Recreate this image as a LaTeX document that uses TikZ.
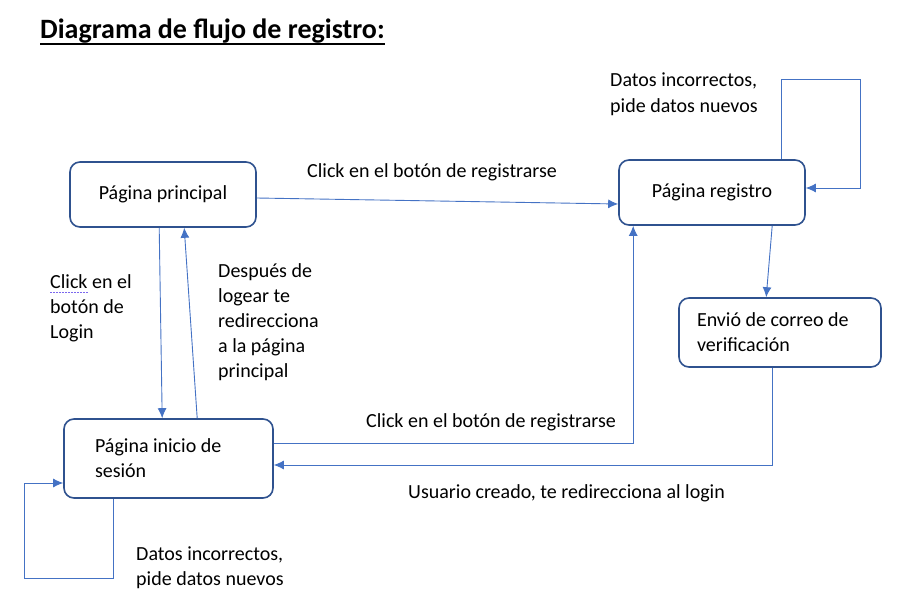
\documentclass[tikz,border=0pt]{standalone}
\usepackage{fontspec}
\setmainfont{Carlito}
\usepackage{tikz}
\usetikzlibrary{arrows.meta,shapes,positioning,calc}
\usepackage{xcolor}
\definecolor{flborder}{RGB}{47,82,143}
\definecolor{flline}{RGB}{68,114,196}
\definecolor{flsquiggle}{RGB}{123,104,238}
\tikzstyle{pagebox} = [rectangle, rounded corners=10pt, draw=flborder, fill=white, line width=1.6pt, inner sep=0pt]
\tikzstyle{arrow} = [line width=0.9pt, -{Latex[length=10pt,width=9pt]}, color=flline]
\tikzstyle{caption} = [anchor=base west, align=left, inner sep=0pt]

\begin{document}
\begin{tikzpicture}[x=1pt, y=-1pt, font=\fontsize{20}{25}\selectfont]
\useasboundingbox (0,0) rectangle (900,602);

% Title
\node (titulo) [anchor=base west, inner sep=0pt, font=\bfseries\fontsize{28}{32}\selectfont] at (40,39) {Diagrama de flujo de registro:};
\draw [line width=2pt] ($(titulo.base west)+(0,5)$) -- ($(titulo.base east)+(0,5)$);

% Pages
\node (principal) [pagebox, minimum width=186pt, minimum height=65pt] at (163,194.5) {Página principal};
\node (registro) [pagebox, minimum width=186pt, minimum height=65pt] at (712,192.5) {Página registro};
\node (envio) [pagebox, minimum width=202pt, minimum height=69pt, text width=166pt, align=flush left] at (780,332.5) {Envió de correo de\\verificación};
\node (inicio) [pagebox, minimum width=209pt, minimum height=79pt, text width=147pt, align=flush left] at (168.5,458.5) {Página inicio de\\sesión};

% Connectors
\draw [arrow] ($(principal.east)+(0,3.5)$) -- ($(registro.west)+(0,11.5)$);
\draw [arrow] ($(principal.south west)+(90,0)$) -- ($(inicio.north west)+(99,0)$);
\draw [arrow] ($(inicio.north west)+(134,0)$) -- ($(principal.south west)+(115,0)$);
\draw [arrow] ($(registro.south west)+(154,0)$) -- ($(envio.north west)+(88,0)$);
\draw [arrow] ($(envio.south west)+(94,0)$) |- ($(inicio.east)+(0,6.5)$);
\draw [arrow] ($(inicio.east)+(0,-15.5)$) -| ($(registro.south west)+(15,0)$);

% Retry loops
\draw [arrow] ($(registro.north west)+(163,0)$) -- ++(0,-80) -- ++(79,0) |- ($(registro.east)+(0,-4.5)$);
\draw [arrow] ($(inicio.south west)+(50,0)$) -- ++(0,80) -- ++(-89,0) |- ($(inicio.west)+(0,24.5)$);

% Labels (base = last line)
\node (lblregistro) [caption] at (307,177) {Click en el botón de registrarse};
\node (lblregistro2) [caption] at (366,427) {Click en el botón de registrarse};
\node (lblcreado) [caption] at (408,498) {Usuario creado, te redirecciona al login};
\node (lbldatos) [caption] at (610,112) {Datos incorrectos,\\pide datos nuevos};
\node (lbldatos2) [caption] at (136,585) {Datos incorrectos,\\pide datos nuevos};
\node (lbllogin) [caption] at (50,338) {Click en el\\botón de\\Login};
\node (lbldespues) [caption] at (218,377) {Después de\\logear te\\redirecciona\\a la página\\principal};
\draw [flsquiggle, line width=0.8pt, dash pattern=on 2pt off 1pt] (50,292) -- (88,292);
\end{tikzpicture}
\end{document}
